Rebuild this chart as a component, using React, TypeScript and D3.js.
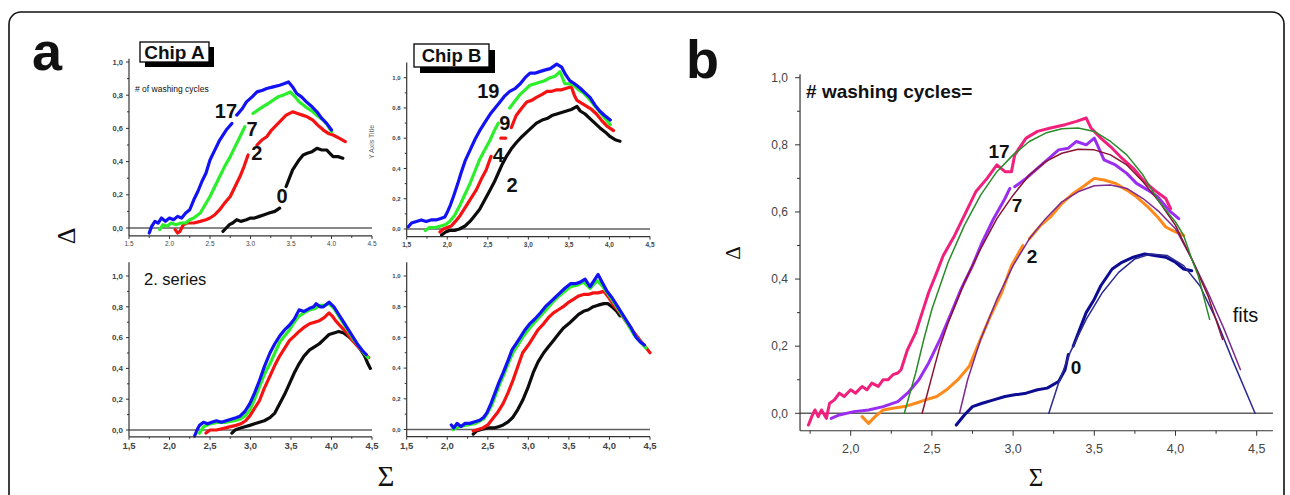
import React from "react";
import * as d3 from "d3";

type P = [number, number] | null;

// ---------- Panel a, Chip A (series 1) ----------
const chipA_17: P[] = [[1.75,-0.03],[1.78,0.01],[1.82,0.04],[1.86,0.03],[1.9,0.06],[1.95,0.04],[2.0,0.06],[2.05,0.05],[2.1,0.07],[2.15,0.06],[2.2,0.09],[2.25,0.11],[2.3,0.17],[2.35,0.22],[2.4,0.28],[2.45,0.33],[2.5,0.41],[2.55,0.46],[2.62,0.53],[2.7,0.59],[2.77,0.63],null,[2.83,0.68],[2.9,0.72],[2.95,0.76],[3.02,0.79],[3.08,0.82],[3.15,0.83],[3.2,0.84],[3.28,0.85],[3.36,0.86],[3.42,0.87],[3.47,0.88],[3.52,0.85],[3.57,0.81],[3.63,0.79],[3.69,0.76],[3.76,0.73],[3.82,0.70],[3.88,0.66],[3.94,0.63],[4.0,0.59]];
const chipA_7: P[] = [[1.88,-0.01],[1.92,0.02],[1.97,0.01],[2.02,0.03],[2.08,0.02],[2.14,0.03],[2.2,0.03],[2.25,0.05],[2.3,0.06],[2.38,0.09],[2.44,0.14],[2.5,0.19],[2.56,0.25],[2.62,0.31],[2.68,0.37],[2.75,0.43],[2.81,0.49],[2.87,0.55],[2.93,0.61],null,[3.03,0.69],[3.09,0.71],[3.15,0.73],[3.22,0.75],[3.28,0.77],[3.34,0.79],[3.4,0.80],[3.45,0.81],[3.49,0.82],[3.55,0.79],[3.6,0.76],[3.68,0.73],[3.77,0.70],[3.84,0.67],[3.9,0.65],[3.95,0.62],[4.0,0.58]];
const chipA_2: P[] = [[2.07,-0.01],[2.1,-0.03],[2.13,-0.02],[2.17,0.02],[2.22,0.03],[2.3,0.03],[2.38,0.04],[2.45,0.05],[2.5,0.06],[2.56,0.08],[2.62,0.11],[2.68,0.15],[2.75,0.19],[2.81,0.25],[2.87,0.31],[2.92,0.37],[2.97,0.44],null,[3.08,0.50],[3.14,0.53],[3.2,0.55],[3.26,0.59],[3.32,0.62],[3.38,0.65],[3.44,0.68],[3.52,0.70],[3.58,0.69],[3.64,0.68],[3.7,0.67],[3.77,0.65],[3.83,0.62],[3.9,0.59],[3.96,0.57],[4.02,0.56],[4.1,0.54],[4.17,0.52]];
const chipA_0: P[] = [[2.66,-0.02],[2.7,0.0],[2.74,0.02],[2.78,0.03],[2.83,0.05],[2.88,0.04],[2.95,0.05],[3.0,0.06],[3.05,0.06],[3.11,0.07],[3.17,0.08],[3.23,0.09],[3.3,0.10],[3.36,0.12],null,[3.44,0.25],[3.48,0.30],[3.52,0.35],[3.56,0.38],[3.6,0.41],[3.65,0.44],[3.7,0.45],[3.76,0.46],[3.82,0.48],[3.88,0.47],[3.94,0.47],[3.98,0.45],[4.02,0.43],[4.08,0.43],[4.14,0.42]];

// ---------- Panel a, Chip B (series 1) ----------
const chipB_19: P[] = [[1.52,0.015],[1.56,0.04],[1.62,0.05],[1.68,0.06],[1.74,0.05],[1.8,0.06],[1.86,0.06],[1.92,0.07],[1.97,0.08],[2.0,0.11],[2.04,0.16],[2.08,0.22],[2.13,0.30],[2.17,0.37],[2.22,0.45],[2.28,0.52],[2.34,0.59],[2.4,0.65],[2.47,0.71],[2.53,0.76],[2.59,0.80],[2.65,0.84],[2.71,0.88],[2.77,0.91],[2.84,0.93],[2.9,0.96],[2.96,1.0],[3.02,1.03],[3.08,1.03],[3.14,1.04],[3.2,1.05],[3.27,1.06],[3.35,1.09],[3.41,1.07],[3.46,1.02],[3.51,0.98],[3.57,0.96],[3.64,0.93],[3.7,0.90],[3.76,0.87],[3.82,0.82],[3.88,0.78],[3.94,0.75],[4.01,0.72]];
const chipB_9: P[] = [[1.73,-0.01],[1.78,0.01],[1.85,0.01],[1.92,0.02],[1.98,0.03],[2.03,0.05],[2.09,0.09],[2.15,0.15],[2.21,0.22],[2.28,0.30],[2.34,0.38],[2.4,0.46],[2.47,0.53],[2.53,0.59],[2.58,0.65],[2.63,0.70],null,[2.77,0.80],[2.84,0.85],[2.9,0.89],[2.96,0.92],[3.02,0.95],[3.08,0.96],[3.14,0.97],[3.2,0.98],[3.27,1.0],[3.33,1.01],[3.39,1.04],[3.45,0.96],[3.5,0.96],[3.56,0.95],[3.62,0.92],[3.68,0.90],[3.75,0.86],[3.81,0.82],[3.87,0.78],[3.93,0.74],[4.01,0.69]];
const chipB_4: P[] = [[1.91,-0.02],[1.95,0.0],[2.0,0.01],[2.05,0.02],[2.1,0.05],[2.16,0.09],[2.23,0.15],[2.29,0.20],[2.36,0.26],[2.42,0.33],[2.48,0.39],[2.54,0.48],null,[2.66,0.60],[2.72,0.60],null,[2.79,0.67],[2.85,0.75],[2.92,0.80],[2.98,0.84],[3.04,0.85],[3.1,0.87],[3.17,0.89],[3.23,0.91],[3.29,0.91],[3.35,0.92],[3.41,0.92],[3.47,0.93],[3.53,0.94],[3.57,0.88],[3.6,0.85],[3.66,0.83],[3.72,0.81],[3.78,0.79],[3.84,0.76],[3.9,0.72],[3.97,0.68],[4.05,0.65]];
const chipB_2: P[] = [[1.93,-0.04],[1.98,-0.02],[2.03,-0.01],[2.09,-0.01],[2.15,0.0],[2.22,0.02],[2.28,0.05],[2.34,0.09],[2.4,0.13],[2.46,0.19],[2.53,0.26],[2.58,0.31],[2.63,0.37],[2.68,0.43],[2.73,0.48],[2.79,0.53],[2.85,0.57],[2.92,0.61],[2.98,0.64],[3.04,0.67],[3.1,0.70],[3.17,0.72],[3.23,0.73],[3.29,0.75],[3.35,0.76],[3.41,0.77],[3.47,0.78],[3.53,0.79],[3.6,0.81],[3.64,0.78],[3.7,0.76],[3.76,0.73],[3.82,0.70],[3.88,0.67],[3.95,0.64],[4.01,0.61],[4.07,0.59],[4.13,0.58]];

// ---------- Panel a, 2. series, Chip A ----------
const s2A_blue: P[] = [[2.31,-0.04],[2.34,0.0],[2.37,0.03],[2.42,0.05],[2.47,0.04],[2.52,0.05],[2.58,0.06],[2.64,0.05],[2.7,0.06],[2.76,0.07],[2.82,0.08],[2.87,0.09],[2.93,0.12],[2.99,0.17],[3.05,0.24],[3.11,0.32],[3.17,0.41],[3.24,0.50],[3.3,0.56],[3.36,0.61],[3.42,0.65],[3.48,0.68],[3.54,0.72],[3.6,0.78],[3.66,0.77],[3.73,0.79],[3.78,0.80],[3.81,0.82],[3.86,0.80],[3.9,0.80],[3.97,0.83],[4.03,0.80],[4.09,0.75],[4.15,0.70],[4.21,0.65],[4.27,0.60],[4.33,0.55],[4.39,0.51],[4.43,0.49]];
const s2A_green: P[] = [[2.37,-0.02],[2.42,0.02],[2.5,0.04],[2.6,0.05],[2.7,0.05],[2.8,0.06],[2.87,0.07],[2.93,0.09],[2.99,0.13],[3.05,0.20],[3.11,0.28],[3.17,0.36],[3.24,0.43],[3.3,0.50],[3.36,0.57],[3.42,0.61],[3.48,0.65],[3.54,0.70],[3.6,0.74],[3.66,0.76],[3.73,0.78],[3.8,0.79],[3.86,0.81],[3.92,0.81],[3.97,0.82],[4.03,0.79],[4.09,0.74],[4.15,0.69],[4.21,0.64],[4.27,0.59],[4.33,0.55],[4.4,0.50],[4.45,0.47]];
const s2A_red: P[] = [[2.45,-0.02],[2.5,0.0],[2.58,0.0],[2.66,0.01],[2.74,0.02],[2.82,0.03],[2.88,0.04],[2.94,0.06],[2.99,0.09],[3.05,0.14],[3.11,0.19],[3.17,0.27],[3.24,0.35],[3.3,0.42],[3.36,0.48],[3.42,0.53],[3.48,0.58],[3.54,0.61],[3.6,0.64],[3.67,0.67],[3.73,0.69],[3.79,0.70],[3.85,0.71],[3.91,0.73],[3.97,0.76],[4.01,0.74],[4.05,0.71],[4.12,0.67],[4.19,0.63],[4.26,0.58],[4.33,0.54],[4.4,0.50],[4.46,0.47]];
const s2A_black: P[] = [[2.77,-0.02],[2.81,0.0],[2.86,0.01],[2.92,0.02],[2.99,0.03],[3.05,0.04],[3.11,0.05],[3.17,0.06],[3.24,0.08],[3.3,0.11],[3.36,0.17],[3.42,0.23],[3.48,0.30],[3.54,0.37],[3.6,0.43],[3.66,0.48],[3.73,0.52],[3.79,0.54],[3.85,0.56],[3.91,0.59],[3.97,0.62],[4.03,0.63],[4.09,0.64],[4.15,0.63],[4.2,0.61],[4.25,0.59],[4.29,0.57],[4.35,0.53],[4.41,0.48],[4.45,0.43],[4.48,0.40]];

// ---------- Panel a, 2. series, Chip B ----------
const s2B_blue: P[] = [[2.05,0.03],[2.08,0.01],[2.12,0.04],[2.17,0.02],[2.22,0.04],[2.28,0.04],[2.34,0.05],[2.4,0.06],[2.45,0.08],[2.49,0.11],[2.54,0.17],[2.59,0.24],[2.64,0.31],[2.69,0.37],[2.75,0.45],[2.8,0.52],[2.85,0.56],[2.9,0.60],[2.96,0.65],[3.02,0.69],[3.08,0.72],[3.15,0.76],[3.21,0.80],[3.27,0.83],[3.33,0.86],[3.39,0.89],[3.45,0.92],[3.52,0.95],[3.58,0.95],[3.64,0.96],[3.7,0.98],[3.76,0.93],[3.81,0.97],[3.86,1.01],[3.91,0.96],[3.97,0.90],[4.03,0.86],[4.09,0.81],[4.15,0.76],[4.21,0.71],[4.27,0.66],[4.33,0.60],[4.38,0.57],[4.43,0.55]];
const s2B_green: P[] = [[2.07,0.0],[2.15,0.02],[2.25,0.03],[2.35,0.04],[2.45,0.07],[2.5,0.11],[2.55,0.16],[2.6,0.23],[2.65,0.30],[2.7,0.36],[2.76,0.44],[2.81,0.50],[2.87,0.55],[2.93,0.60],[3.0,0.65],[3.08,0.70],[3.15,0.74],[3.22,0.78],[3.3,0.83],[3.38,0.87],[3.45,0.90],[3.52,0.93],[3.6,0.94],[3.68,0.96],[3.76,0.92],[3.85,0.97],[3.92,0.93],[4.0,0.87],[4.1,0.79],[4.2,0.71],[4.3,0.62],[4.4,0.56],[4.45,0.53]];
const s2B_red: P[] = [[2.32,-0.01],[2.38,0.0],[2.44,0.01],[2.5,0.03],[2.56,0.07],[2.62,0.11],[2.69,0.17],[2.75,0.24],[2.81,0.32],[2.87,0.41],[2.93,0.50],[3.0,0.55],[3.06,0.60],[3.12,0.65],[3.19,0.69],[3.25,0.73],[3.31,0.76],[3.37,0.78],[3.43,0.80],[3.5,0.83],[3.56,0.85],[3.62,0.87],[3.68,0.88],[3.74,0.88],[3.8,0.89],[3.86,0.89],[3.93,0.90],[3.99,0.86],[4.05,0.81],[4.13,0.76],[4.21,0.70],[4.29,0.64],[4.38,0.58],[4.44,0.54],[4.5,0.50]];
const s2B_black: P[] = [[2.32,-0.03],[2.36,-0.01],[2.42,0.0],[2.5,0.01],[2.58,0.01],[2.64,0.02],[2.69,0.03],[2.75,0.05],[2.81,0.08],[2.87,0.13],[2.93,0.19],[3.0,0.28],[3.06,0.37],[3.12,0.44],[3.19,0.50],[3.25,0.54],[3.31,0.58],[3.37,0.62],[3.43,0.66],[3.5,0.69],[3.56,0.72],[3.62,0.75],[3.68,0.77],[3.74,0.78],[3.8,0.80],[3.86,0.81],[3.93,0.82],[3.98,0.82],[4.03,0.80],[4.09,0.77],[4.13,0.74]];

// ---------- Panel b: measured curves ----------
const b_17: P[] = [[1.74,-0.035],[1.76,-0.01],[1.78,0.01],[1.8,-0.01],[1.82,0.01],[1.85,-0.015],[1.87,0.03],[1.9,0.04],[1.93,0.06],[1.96,0.05],[2.0,0.07],[2.03,0.06],[2.07,0.08],[2.1,0.07],[2.13,0.09],[2.17,0.08],[2.2,0.10],[2.23,0.10],[2.26,0.115],[2.29,0.12],[2.31,0.13],[2.35,0.19],[2.4,0.24],[2.44,0.30],[2.48,0.36],[2.53,0.42],[2.57,0.47],[2.64,0.53],[2.7,0.59],[2.77,0.66],[2.84,0.70],[2.9,0.74],[2.95,0.72],[2.99,0.72],[3.01,0.77],[3.08,0.82],[3.15,0.84],[3.23,0.85],[3.32,0.86],[3.39,0.87],[3.45,0.88],[3.48,0.85],[3.54,0.82],[3.61,0.79],[3.67,0.76],[3.74,0.73],[3.81,0.69],[3.87,0.665],[3.94,0.64],[3.97,0.61]];
const b_7: P[] = [[1.88,-0.015],[1.93,-0.005],[2.02,0.005],[2.11,0.01],[2.2,0.02],[2.29,0.035],[2.35,0.06],[2.42,0.10],[2.48,0.15],[2.55,0.22],[2.62,0.30],[2.68,0.37],[2.75,0.44],[2.81,0.51],[2.88,0.58],[2.95,0.64],[2.98,0.67],null,[3.01,0.675],[3.08,0.70],[3.15,0.73],[3.21,0.755],[3.28,0.785],[3.34,0.79],[3.39,0.81],[3.45,0.80],[3.5,0.82],[3.56,0.755],[3.63,0.74],[3.7,0.715],[3.76,0.685],[3.83,0.665],[3.89,0.645],[3.96,0.605],[4.02,0.58]];
const b_2: P[] = [[2.07,-0.01],[2.11,-0.03],[2.15,-0.01],[2.2,0.01],[2.26,0.015],[2.33,0.02],[2.4,0.03],[2.46,0.04],[2.53,0.05],[2.59,0.07],[2.66,0.10],[2.73,0.14],[2.79,0.21],[2.86,0.29],[2.93,0.36],[2.99,0.44],[3.06,0.50],null,[3.1,0.52],[3.17,0.56],[3.23,0.585],[3.3,0.625],[3.37,0.655],[3.43,0.675],[3.5,0.70],[3.56,0.695],[3.63,0.685],[3.7,0.665],[3.76,0.645],[3.83,0.615],[3.89,0.585],[3.94,0.555],[3.98,0.545],[4.05,0.53]];
const b_0: P[] = [[2.65,-0.035],[2.7,-0.005],[2.75,0.02],[2.81,0.03],[2.88,0.04],[2.95,0.05],[3.01,0.055],[3.08,0.06],[3.15,0.07],[3.21,0.075],[3.28,0.095],[3.32,0.13],[3.34,0.175],null,[3.37,0.20],[3.41,0.25],[3.45,0.30],[3.5,0.34],[3.54,0.38],[3.61,0.43],[3.67,0.45],[3.74,0.465],[3.81,0.475],[3.87,0.47],[3.94,0.465],[4.0,0.45],[4.05,0.43],[4.1,0.425]];

// ---------- Panel b: fits ----------
const fit_17: P[] = [[2.33,0],[2.4,0.12],[2.45,0.22],[2.5,0.31],[2.6,0.45],[2.7,0.56],[2.8,0.65],[2.9,0.72],[3.0,0.77],[3.1,0.81],[3.2,0.835],[3.3,0.848],[3.4,0.85],[3.5,0.84],[3.6,0.81],[3.7,0.77],[3.8,0.71],[3.9,0.63],[4.0,0.57],[4.05,0.53],[4.1,0.46],[4.14,0.41],[4.21,0.28]];
const fit_7: P[] = [[2.44,0],[2.5,0.11],[2.55,0.2],[2.6,0.27],[2.7,0.39],[2.8,0.49],[2.9,0.58],[3.0,0.65],[3.1,0.71],[3.2,0.75],[3.3,0.775],[3.4,0.787],[3.5,0.785],[3.6,0.77],[3.7,0.74],[3.8,0.69],[3.9,0.63],[4.0,0.56],[4.1,0.46],[4.2,0.35],[4.29,0.22]];
const fit_2: P[] = [[2.67,0],[2.72,0.1],[2.8,0.22],[2.9,0.34],[3.0,0.44],[3.1,0.52],[3.2,0.58],[3.3,0.63],[3.4,0.66],[3.5,0.678],[3.6,0.68],[3.7,0.67],[3.8,0.64],[3.9,0.6],[4.0,0.55],[4.1,0.46],[4.2,0.36],[4.3,0.25],[4.4,0.13]];
const fit_0: P[] = [[3.22,0],[3.28,0.09],[3.35,0.18],[3.45,0.28],[3.55,0.36],[3.65,0.42],[3.75,0.46],[3.85,0.475],[3.95,0.47],[4.05,0.44],[4.15,0.38],[4.25,0.28],[4.35,0.16],[4.49,0]];

// ---------- Ticks ----------
const xTicksA = [1.5, 2.0, 2.5, 3.0, 3.5, 4.0, 4.5];
const xMinorA = [1.75, 2.25, 2.75, 3.25, 3.75, 4.25];
const xTicksB = [2.0, 2.5, 3.0, 3.5, 4.0, 4.5];
const xMinorB = [1.75, 2.25, 2.75, 3.25, 3.75, 4.25];
const yTicks = [0, 0.2, 0.4, 0.6, 0.8, 1.0];
const yMinor = [0.1, 0.3, 0.5, 0.7, 0.9];

const comma = (v: number) => v.toFixed(1).replace(".", ",");
const dot = (v: number) => v.toFixed(1);

const SANS = "'Liberation Sans', Arial, Helvetica, sans-serif";
const SERIF = "'Liberation Serif', 'Times New Roman', serif";

const C = { blue: "#1212f5", green: "#2cef2c", red: "#f51212", black: "#0c0c0c" };
const CB = { pink: "#f0207c", purple: "#9a2ef0", orange: "#ff8a1c", navy: "#0c0c92", fitG: "#2a8a2a", fitM: "#8a1232", fitP: "#7c2a90", fitN: "#2a2a92" };

type Series = { data: P[]; color: string; width: number };
type Lbl = { text: string; x: number; y: number; size: number; weight?: string; anchor?: string };
type Spec = {
  xDomain: [number, number]; xRange: [number, number];
  yRange: [number, number];
  axisX: [number, number]; axisY: [number, number];
  xTicks: number[]; xMinor: number[];
  xFmt: (v: number) => string; yFmt: (v: number) => string;
  xFont: number; yFont: number; xBold: boolean; yBold: boolean;
  xLabOff: number; yLabOff: number;
  tickMaj: number; tickMin: number;
  series: Series[]; labels: Lbl[];
};

const Panel: React.FC<{ s: Spec }> = ({ s }) => {
  const x = d3.scaleLinear().domain(s.xDomain).range(s.xRange);
  const y = d3.scaleLinear().domain([0, 1]).range(s.yRange);
  const line = d3.line<P>()
    .defined((d) => d !== null)
    .x((d) => x((d as [number, number])[0]))
    .y((d) => y((d as [number, number])[1]));
  const ax0 = x(s.axisX[0]), ax1 = x(s.axisX[1]);
  const yb = y(s.axisY[0]), yt = y(s.axisY[1]);
  return (
    <g>
      <line x1={ax0} x2={ax1} y1={y(0)} y2={y(0)} stroke="#606060" strokeWidth={1.4} />
      {s.series.map((se, i) => (
        <path key={i} d={line(se.data) || ""} fill="none" stroke={se.color} strokeWidth={se.width} strokeLinejoin="round" strokeLinecap="round" />
      ))}
      <line x1={ax0} x2={ax1} y1={yb} y2={yb} stroke="#333" strokeWidth={1.2} />
      <line x1={ax0} x2={ax0} y1={yb} y2={yt} stroke="#333" strokeWidth={1.2} />
      {s.xTicks.map((t) => (
        <g key={"xt" + t}>
          <line x1={x(t)} x2={x(t)} y1={yb} y2={yb + s.tickMaj} stroke="#333" strokeWidth={1} />
          <text x={x(t)} y={yb + s.xLabOff} fontSize={s.xFont} fontWeight={s.xBold ? "bold" : "normal"} fill="#444" textAnchor="middle" fontFamily={SANS}>{s.xFmt(t)}</text>
        </g>
      ))}
      {s.xMinor.map((t) => (
        <line key={"xm" + t} x1={x(t)} x2={x(t)} y1={yb} y2={yb + s.tickMin} stroke="#333" strokeWidth={1} />
      ))}
      {yTicks.map((t) => (
        <g key={"yt" + t}>
          <line x1={ax0 - s.tickMaj} x2={ax0} y1={y(t)} y2={y(t)} stroke="#333" strokeWidth={1} />
          <text x={ax0 - s.yLabOff} y={y(t)} dy="0.35em" fontSize={s.yFont} fontWeight={s.yBold ? "bold" : "normal"} fill="#444" textAnchor="end" fontFamily={SANS}>{s.yFmt(t)}</text>
        </g>
      ))}
      {yMinor.map((t) => (
        <line key={"ym" + t} x1={ax0 - s.tickMin} x2={ax0} y1={y(t)} y2={y(t)} stroke="#333" strokeWidth={1} />
      ))}
      {s.labels.map((l, i) => (
        <text key={"l" + i} x={x(l.x)} y={y(l.y)} fontSize={l.size} fontWeight={l.weight || "bold"} fontFamily={SANS} textAnchor={(l.anchor as any) || "start"} fill="#111">{l.text}</text>
      ))}
    </g>
  );
};

const WA = 3.2;
const WB = 3.0;

const TL: Spec = {
  xDomain: [1.5, 4.5], xRange: [129, 372], yRange: [228, 62],
  axisX: [1.5, 4.5], axisY: [-0.048, 1.02],
  xTicks: xTicksA, xMinor: xMinorA, xFmt: dot, yFmt: comma,
  xFont: 6.5, yFont: 7.5, xBold: false, yBold: true, xLabOff: 10.5, yLabOff: 6,
  tickMaj: 3, tickMin: 2,
  series: [
    { data: chipA_0, color: C.black, width: WA },
    { data: chipA_2, color: C.red, width: WA },
    { data: chipA_7, color: C.green, width: WA },
    { data: chipA_17, color: C.blue, width: WA },
  ],
  labels: [
    { text: "# of washing cycles", x: 1.574, y: 0.82, size: 8.5, weight: "normal" },
    { text: "17", x: 2.56, y: 0.66, size: 20 },
    { text: "7", x: 2.95, y: 0.554, size: 20 },
    { text: "2", x: 3.01, y: 0.41, size: 20 },
    { text: "0", x: 3.32, y: 0.149, size: 20 },
  ],
};

const TR: Spec = {
  xDomain: [1.5, 4.5], xRange: [406.7, 650], yRange: [229, 77.7],
  axisX: [1.5, 4.5], axisY: [-0.05, 1.1],
  xTicks: xTicksA, xMinor: xMinorA, xFmt: comma, yFmt: comma,
  xFont: 6.5, yFont: 6, xBold: true, yBold: true, xLabOff: 10.5, yLabOff: 6,
  tickMaj: 3, tickMin: 2,
  series: [
    { data: chipB_2, color: C.black, width: WA },
    { data: chipB_4, color: C.red, width: WA },
    { data: chipB_9, color: C.green, width: WA },
    { data: chipB_19, color: C.blue, width: WA },
  ],
  labels: [
    { text: "19", x: 2.37, y: 0.864, size: 20 },
    { text: "9", x: 2.64, y: 0.654, size: 20 },
    { text: "4", x: 2.56, y: 0.445, size: 20 },
    { text: "2", x: 2.73, y: 0.247, size: 20 },
  ],
};

const BL: Spec = {
  xDomain: [1.5, 4.5], xRange: [129, 372], yRange: [430, 276],
  axisX: [1.5, 4.5], axisY: [-0.044, 1.09],
  xTicks: xTicksA, xMinor: xMinorA, xFmt: comma, yFmt: comma,
  xFont: 9.5, yFont: 8, xBold: true, yBold: true, xLabOff: 12, yLabOff: 6,
  tickMaj: 3, tickMin: 2,
  series: [
    { data: s2A_black, color: C.black, width: WA },
    { data: s2A_red, color: C.red, width: WA },
    { data: s2A_green, color: C.green, width: WA },
    { data: s2A_blue, color: C.blue, width: WA },
  ],
  labels: [{ text: "2. series", x: 1.685, y: 0.94, size: 16.5, weight: "normal" }],
};

const BR: Spec = {
  xDomain: [1.5, 4.5], xRange: [406.7, 650], yRange: [429.5, 276],
  axisX: [1.5, 4.5], axisY: [-0.047, 1.09],
  xTicks: xTicksA, xMinor: xMinorA, xFmt: comma, yFmt: comma,
  xFont: 9.5, yFont: 6, xBold: true, yBold: true, xLabOff: 12, yLabOff: 6,
  tickMaj: 3, tickMin: 2,
  series: [
    { data: s2B_black, color: C.black, width: WA },
    { data: s2B_red, color: C.red, width: WA },
    { data: s2B_green, color: C.green, width: WA },
    { data: s2B_blue, color: C.blue, width: WA },
  ],
  labels: [],
};

const PB: Spec = {
  xDomain: [2.0, 4.5], xRange: [850.7, 1256.7], yRange: [413.3, 77.7],
  axisX: [1.688, 4.6], axisY: [-0.052, 1.01],
  xTicks: xTicksB, xMinor: xMinorB, xFmt: comma, yFmt: comma,
  xFont: 12.5, yFont: 12, xBold: false, yBold: false, xLabOff: 22, yLabOff: 12,
  tickMaj: 5, tickMin: 3,
  series: [
    { data: b_0, color: CB.navy, width: WB },
    { data: b_2, color: CB.orange, width: WB },
    { data: b_7, color: CB.purple, width: WB },
    { data: b_17, color: CB.pink, width: WB },
    { data: fit_0, color: CB.fitN, width: 1.5 },
    { data: fit_2, color: CB.fitP, width: 1.5 },
    { data: fit_7, color: CB.fitM, width: 1.5 },
    { data: fit_17, color: CB.fitG, width: 1.5 },
  ],
  labels: [
    { text: "# washing cycles=", x: 1.725, y: 0.939, size: 19 },
    { text: "17", x: 2.848, y: 0.761, size: 19 },
    { text: "7", x: 2.991, y: 0.601, size: 19 },
    { text: "2", x: 3.084, y: 0.447, size: 19 },
    { text: "0", x: 3.355, y: 0.117, size: 19 },
    { text: "fits", x: 4.352, y: 0.273, size: 20, weight: "normal" },
  ],
};

const ChipBox: React.FC<{ x: number; y: number; w: number; h: number; label: string; size: number; off: number }> = ({ x, y, w, h, label, size, off }) => (
  <g>
    <rect x={x + off} y={y + off} width={w} height={h} fill="#000" />
    <rect x={x} y={y} width={w} height={h} fill="#fff" stroke="#000" strokeWidth={1.3} />
    <text x={x + w / 2} y={y + h / 2} dy="0.36em" textAnchor="middle" fontSize={size} fontWeight="bold" fontFamily={SANS} fill="#111">{label}</text>
  </g>
);

export default function App() {
  return (
    <svg width={1290} height={495} viewBox="0 0 1290 495" style={{ position: "absolute", left: 0, top: 0, display: "block", background: "#fff" }}>
      <rect x={0} y={0} width={1290} height={495} fill="#fff" />
      <rect x={9} y={12} width={1275} height={530} rx={12} ry={12} fill="none" stroke="#111" strokeWidth={1.6} />
      <text x={32} y={70} fontSize={54} fontWeight="bold" fontFamily={SANS} fill="#111">a</text>
      <text x={686} y={78} fontSize={54} fontWeight="bold" fontFamily={SANS} fill="#111">b</text>
      <Panel s={TL} />
      <Panel s={TR} />
      <Panel s={BL} />
      <Panel s={BR} />
      <Panel s={PB} />
      <ChipBox x={140} y={42} w={69} h={20} label="Chip A" size={19} off={5} />
      <ChipBox x={414} y={44} w={75} h={23} label="Chip B" size={18.5} off={6} />
      <text transform="translate(372,142) rotate(-90)" textAnchor="middle" dy="0.35em" fontSize={7} fill="#666" fontFamily={SANS}>Y Axis Title</text>
      <text transform="translate(66,236) rotate(-90)" textAnchor="middle" dy="0.35em" fontSize={26} fill="#111" fontFamily={SERIF}>Δ</text>
      <text transform="translate(733,253) rotate(-90)" textAnchor="middle" dy="0.35em" fontSize={21} fill="#111" fontFamily={SERIF}>Δ</text>
      <text x={386} y={486} textAnchor="middle" fontSize={29} fill="#111" fontFamily={SERIF}>Σ</text>
      <text x={1036} y={486} textAnchor="middle" fontSize={25} fill="#111" fontFamily={SERIF}>Σ</text>
    </svg>
  );
}
